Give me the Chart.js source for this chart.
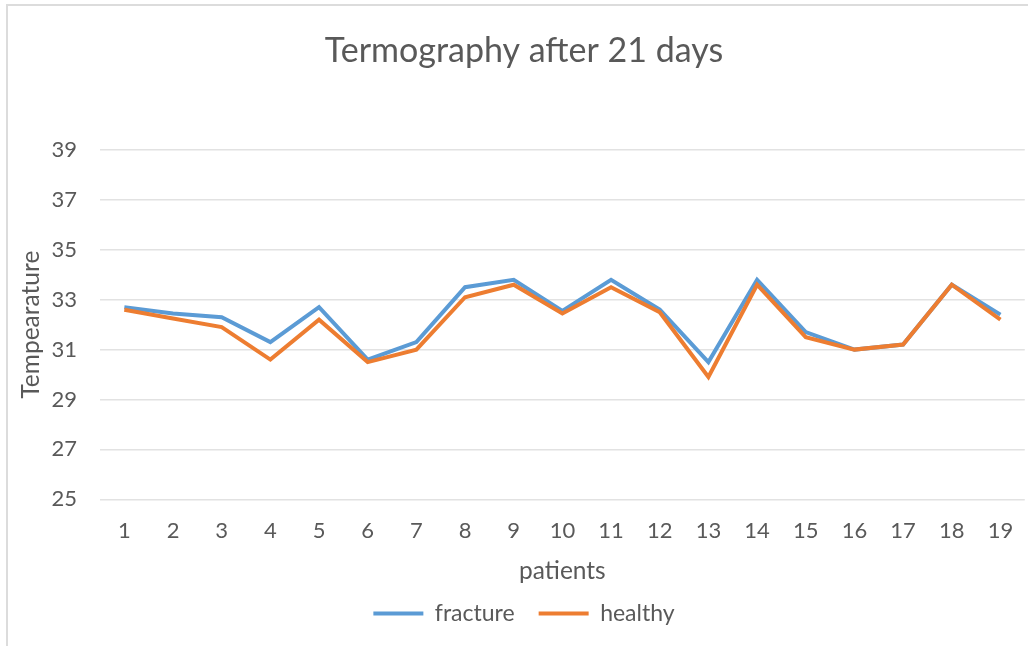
<!DOCTYPE html>
<html>
<head>
<meta charset="utf-8">
<script src="https://cdn.jsdelivr.net/npm/chart.js@4"></script>
<style>
  html, body { margin: 0; padding: 0; background: #fff; overflow: hidden; }
  #wrap { position: relative; width: 1028px; height: 646px; overflow: hidden; }
  #frame { position: absolute; left: 6px; top: 4px; width: 1100px; height: 700px;
           border-left: 2px solid #dcdcdc; border-top: 2px solid #dcdcdc; pointer-events: none; }
  canvas { display: block; }
</style>
</head>
<body>
<div id="wrap">
  <canvas id="chart" width="1032" height="646"></canvas>
  <div id="frame"></div>
</div>
<script>
// patients on the x axis
var patients = ['1', '2', '3', '4', '5', '6', '7', '8', '9', '10', '11', '12', '13', '14', '15', '16', '17', '18', '19'];

// temperatures
var fracture = [32.7, 32.45, 32.3, 31.3, 32.7, 30.6, 31.3, 33.5, 33.8, 32.55, 33.8, 32.6, 30.5, 33.8, 31.7, 31.0, 31.2, 33.6, 32.4];
var healthy  = [32.6, 32.25, 31.9, 30.6, 32.2, 30.5, 31.0, 33.1, 33.6, 32.45, 33.5, 32.5, 29.9, 33.6, 31.5, 31.0, 31.2, 33.6, 32.2];

var yMin = 25, yMax = 39, yStep = 2;

var TEXT = '#595959';
var FONT = 'Lato';

var ctx = document.getElementById('chart').getContext('2d');
new Chart(ctx, {
    type: 'line',
    data: {
        labels: patients,
        datasets: [
            { label: 'fracture', data: fracture, borderColor: '#5B9BD5', backgroundColor: '#5B9BD5',
              borderWidth: 4, pointRadius: 0, tension: 0, order: 2 },
            { label: 'healthy', data: healthy, borderColor: '#ED7D31', backgroundColor: '#ED7D31',
              borderWidth: 4, pointRadius: 0, tension: 0, order: 1 }
        ]
    },
    options: {
        responsive: false,
        animation: false,
        layout: { padding: { left: 16, right: 0, top: 0, bottom: 11 } },
        plugins: {
            title: {
                display: true,
                text: 'Termography after 21 days',
                color: TEXT,
                font: { family: FONT, size: 34, weight: 'normal', lineHeight: 1.2 },
                padding: { top: 30.6, bottom: 78.6 }
            },
            legend: {
                position: 'bottom',
                labels: {
                    color: TEXT,
                    font: { family: FONT, size: 23 },
                    boxWidth: 50,
                    boxHeight: 4,
                    padding: 24,
                    sort: function(a, b) { return a.datasetIndex - b.datasetIndex; },
                    generateLabels: function(chart) {
                        var items = Chart.defaults.plugins.legend.labels.generateLabels(chart);
                        items.forEach(function(it) { it.lineWidth = 0; });
                        return items;
                    }
                }
            },
            tooltip: { enabled: false }
        },
        scales: {
            x: {
                offset: true,
                grid: { display: false, drawTicks: false },
                border: { display: false },
                ticks: { color: TEXT, font: { family: FONT, size: 22, lineHeight: 1.2 }, padding: 18.8, maxRotation: 0, autoSkip: false },
                title: { display: true, text: 'patients', color: TEXT,
                         font: { family: FONT, size: 24.5, lineHeight: 0.6 }, padding: { top: 0, bottom: 0 } }
            },
            y: {
                min: yMin,
                max: yMax,
                afterFit: function(s) { s.width = 84; },
                grid: { color: '#e2e2e2', lineWidth: 1.5, drawTicks: false },
                border: { display: false },
                ticks: { stepSize: yStep, color: TEXT, font: { family: FONT, size: 22 }, padding: 23 },
                title: { display: true, text: 'Tempearature', color: TEXT,
                         font: { family: FONT, size: 24.5, lineHeight: 1.2 }, padding: { top: 0, bottom: 0 } }
            }
        }
    }
});
</script>
</body>
</html>
